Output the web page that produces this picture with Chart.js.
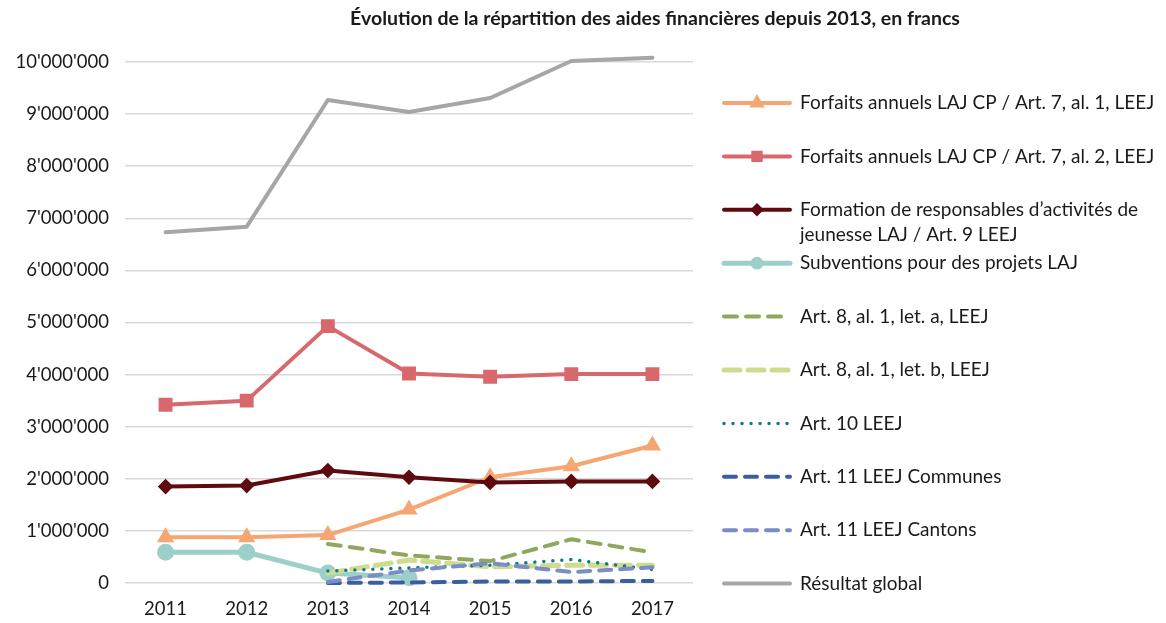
<!DOCTYPE html>
<html>
<head>
<meta charset="utf-8">
<script src="https://cdn.jsdelivr.net/npm/chart.js@4/dist/chart.umd.min.js"></script>
<style>
  html, body { margin: 0; padding: 0; background: #fff; }
  #wrap { width: 1166px; height: 623px; position: relative; }
</style>
</head>
<body>
<div id="wrap"><canvas id="lineChart"></canvas></div>
<script>
const years = ['2011', '2012', '2013', '2014', '2015', '2016', '2017'];

const forfaitsAl1 = [880000, 880000, 920000, 1410000, 2030000, 2240000, 2640000];
const forfaitsAl2 = [3420000, 3500000, 4930000, 4020000, 3960000, 4010000, 4010000];
const formation = [1850000, 1870000, 2160000, 2030000, 1930000, 1950000, 1950000];
const subventions = [590000, 590000, 190000, 100000, null, null, null];
const art8a = [null, null, 750000, 530000, 420000, 840000, 590000];
const art8b = [null, null, 190000, 440000, 310000, 340000, 340000];
const art10 = [null, null, 230000, 290000, 340000, 450000, 260000];
const art11Communes = [null, null, 0, 10000, 30000, 30000, 40000];
const art11Cantons = [null, null, 20000, 240000, 380000, 210000, 300000];
const resultatGlobal = [6730000, 6840000, 9270000, 9040000, 9310000, 10020000, 10080000];

const seriesLabels = [
  'Forfaits annuels LAJ CP / Art. 7, al. 1, LEEJ',
  'Forfaits annuels LAJ CP / Art. 7, al. 2, LEEJ',
  ['Formation de responsables d\u2019activités de', 'jeunesse LAJ / Art. 9 LEEJ'],
  'Subventions pour des projets LAJ',
  'Art. 8, al. 1, let. a, LEEJ',
  'Art. 8, al. 1, let. b, LEEJ',
  'Art. 10 LEEJ',
  'Art. 11 LEEJ Communes',
  'Art. 11 LEEJ Cantons',
  'Résultat global'
];

const yTicks = [0, 1000000, 2000000, 3000000, 4000000, 5000000, 6000000, 7000000, 8000000, 9000000, 10000000];

const FONT = 'Lato, "Open Sans", sans-serif';

function fmt(v) {
  return String(Math.round(v)).replace(/\B(?=(\d{3})+(?!\d))/g, "'");
}

function line(i, data, color, width, extra) {
  return Object.assign({
    label: Array.isArray(seriesLabels[i]) ? seriesLabels[i].join(' ') : seriesLabels[i],
    data: data,
    borderColor: color,
    backgroundColor: color,
    borderWidth: width,
    pointRadius: 0,
    pointStyle: 'circle',
    tension: 0,
    spanGaps: false,
    clip: false,
    borderCapStyle: 'round',
    borderJoinStyle: 'round',
    order: 20 - i
  }, extra || {});
}

const datasets = [
  line(0, forfaitsAl1, '#f5a673', 4, { pointStyle: 'triangle', pointRadius: 6 }),
  line(1, forfaitsAl2, '#d9686d', 4, { pointStyle: 'rect', pointRadius: 7 }),
  line(2, formation, '#5e0b10', 4, { pointStyle: 'rectRot', pointRadius: 5 }),
  line(3, subventions, '#9dcfca', 5, { pointStyle: 'circle', pointRadius: 6 }),
  line(4, art8a, '#8fa85e', 4, { borderDash: [13, 9] }),
  line(5, art8b, '#cfdc8e', 5, { borderDash: [16, 8] }),
  line(6, art10, '#10798a', 3.5, { borderDash: [0.01, 9] }),
  line(7, art11Communes, '#3b5e9f', 4, { borderDash: [12, 9] }),
  line(8, art11Cantons, '#7a8dc5', 4, { borderDash: [12, 9] }),
  line(9, resultatGlobal, '#a6a6a6', 4)
];

// title + legend drawn by hand to match the original layout
const sideLegend = {
  id: 'sideLegend',
  afterDraw(chart) {
    const ctx = chart.ctx;
    ctx.save();
    ctx.fillStyle = '#1a1a1a';
    ctx.font = 'bold 19.5px ' + FONT;
    ctx.textAlign = 'center';
    ctx.textBaseline = 'middle';
    ctx.fillText('Évolution de la répartition des aides financières depuis 2013, en francs', 655, 19);

    const x0 = 722, x1 = 792, tx = 800;
    ctx.font = '19px ' + FONT;
    ctx.textAlign = 'left';
    chart.data.datasets.forEach((ds, i) => {
      const y = 103 + i * 53.4;
      ctx.save();
      ctx.strokeStyle = ds.borderColor;
      ctx.lineWidth = ds.borderWidth;
      ctx.lineCap = 'round';
      ctx.setLineDash(ds.borderDash || []);
      ctx.beginPath();
      ctx.moveTo(x0 + 2, y);
      ctx.lineTo(x1 - 2, y);
      ctx.stroke();
      ctx.restore();
      if (ds.pointRadius > 0) {
        ctx.save();
        ctx.fillStyle = ds.backgroundColor;
        ctx.strokeStyle = ds.borderColor;
        Chart.helpers.drawPoint(ctx, { pointStyle: ds.pointStyle, radius: ds.pointRadius * 0.65, borderWidth: 1, rotation: 0 }, (x0 + x1) / 2, y);
        ctx.restore();
      }
      ctx.fillStyle = '#1a1a1a';
      const lbl = seriesLabels[i];
      if (Array.isArray(lbl)) {
        lbl.forEach((t, k) => ctx.fillText(t, tx, y + k * 25));
      } else {
        ctx.fillText(lbl, tx, y);
      }
    });
    ctx.restore();
  }
};

new Chart(document.getElementById('lineChart').getContext('2d'), {
  type: 'line',
  data: { labels: years, datasets: datasets },
  options: {
    responsive: true,
    maintainAspectRatio: false,
    animation: false,
    layout: { padding: { top: 62, right: 473, bottom: 0, left: 0 } },
    plugins: {
      legend: { display: false },
      title: { display: false },
      tooltip: { enabled: false }
    },
    scales: {
      x: {
        offset: true,
        afterFit: scale => { scale.height = 40; },
        grid: { display: false, drawTicks: false },
        border: { display: false },
        ticks: { color: '#1a1a1a', font: { family: FONT, size: 18.5 }, padding: 15 }
      },
      y: {
        min: 0,
        max: 10000000,
        afterFit: scale => { scale.width = 125; },
        afterBuildTicks: scale => { scale.ticks = yTicks.map(v => ({ value: v })); },
        grid: { color: '#d9d9d9', lineWidth: 1.5, drawTicks: false },
        border: { display: false },
        ticks: {
          color: '#1a1a1a',
          font: { family: FONT, size: 18.5 },
          padding: 16,
          callback: v => fmt(v)
        }
      }
    }
  },
  plugins: [sideLegend]
});
</script>
</body>
</html>
